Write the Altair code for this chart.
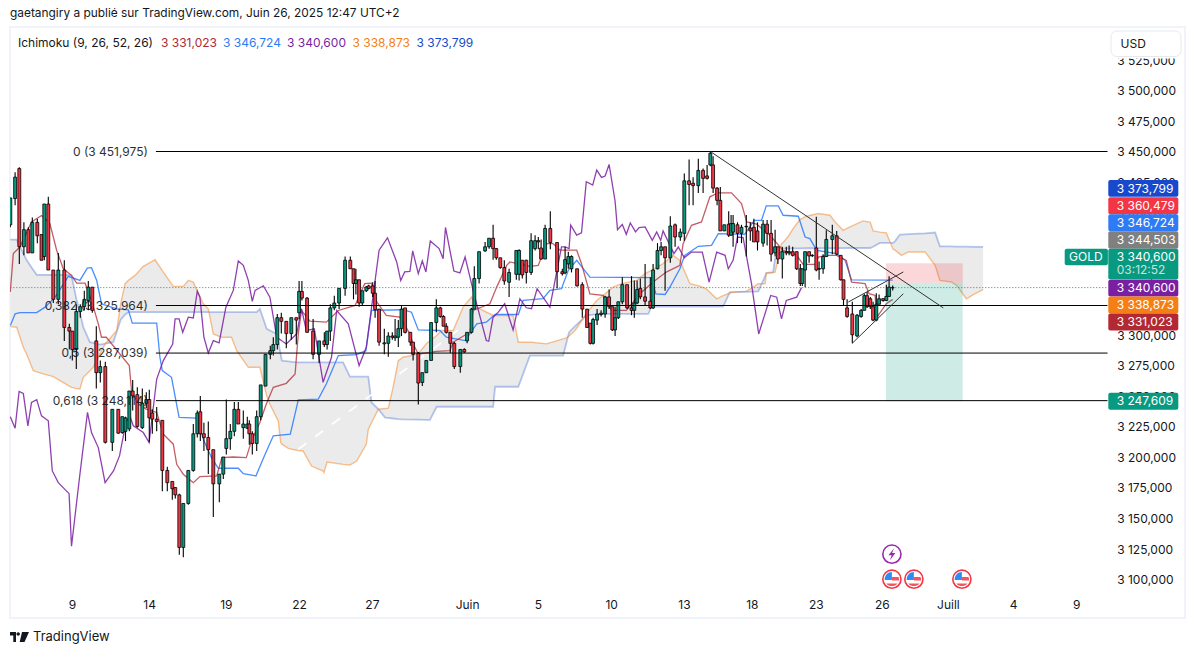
import altair as alt
import pandas as pd

FONT = "Inter"
RED, GREEN = "#f23645", "#089981"
INK = "#131722"

# ---------- candles (bar position, open, high, low, close) ----------
bar_x = [0,1.2,2.25,3.4,4.5,5.5,6.75,7.8,8.5,9.5,
 10.75,12,13.5,14.75,15.5,16.5,17.5,18.5,19.5,20.5,
 21.5,22.5,23.75,25.5,27,28,28.8,29.75,30.6,31.75,
 33,34,34.75,35.5,36.6,38,39.25,40.5,41.25,42.25,
 43.25,44.5,45.75,46.75,47.5,48.4,49.5,50.75,52.25,53.25,
 54,55,56,57,58.25,59.25,59.75,60.5,61.6,62.6,
 63.8,65,65.75,66.75,67.75,69,70.25,71.5,72.2,72.9,
 74.2,75.7,77.2,78.5,79.2,80,81,82.2,83.7,85,
 85.8,86.4,87.2,88,89,89.6,90.6,91.2,92.2,93.5,
 94.5,95.5,96.2,97,97.8,98.7,100,100.7,102,103,
 104,105.2,106.5,107.5,108.3,109,110,111,112.5,113.5,
 114.2,115.3,116,117.2,118.7,119.7,120.7,121.5,122.5,123.5,
 124.7,126.5,127.2,128,129,130.2,131.2,132,132.7,133.7,
 135,136.7,138,138.7,139.5,140.3,141.7,143,144.2,145,
 145.7,146.7,147.7,148.7,149.7,150.5,151.2,152,153,154.2,
 155.3,156,156.7,157.5,158.7,160,160.7,161.8,162.7,163.7,
 165,166.2,167.5,168.5,169.7,170.7,172,173.2,174.2,175,
 175.7,176.7,177.5,178.5,179.6,180.2,180.7,181.8,182.8,184,
 185,185.9,186.8,188.2,189.2,190.2,191.2,191.9,193,194,
 194.7,195.6,196.6,197.5,198,198.7,199.7,200.5,201.5,202.2,
 203.2,204,205.5,206.6,207.6,208.3,209.2,210.5,211.7,212.7,
 213.5,214.2,215,215.7,216.5,217.2,218.2,219,219.7,220.6]
bar_open = [3392,3413.5,3438,3374,3388,3369,3394,3384,3366,3409,
 3355,3331,3355,3308,3305,3290,3321,3325,3330,3341,
 3297,3271,3276,3214,3241,3222,3223,3225,3256,3253,
 3226,3246,3249,3238,3233,3232,3191,3182,3177,3171,
 3128,3164,3191,3221,3239,3221,3218,3208,3180,3188,
 3209,3217,3223,3241,3226,3225.5,3229,3221,3213,3235,
 3260,3286,3289,3294,3316,3313,3303,3316,3320,3337.5,
 3332,3305,3286,3297,3294,3305,3324,3328,3340,3363,
 3356,3344,3347,3328,3338,3342,3342,3336,3323,3294.6,
 3295,3301,3299.5,3300,3307,3324,3304,3296,3287,3263,
 3271,3281,3312,3324,3317,3309,3304,3295,3276,3290,
 3297,3304,3323,3348,3370.6,3374,3381,3372.5,3365,3357,
 3345,3351.5,3351.5,3363,3363,3353,3372.5,3379,3373,3364,
 3389,3377.5,3353.6,3352.6,3360,3356,3356,3343,3323,3311.5,
 3295,3314,3318.6,3319,3333,3325,3306,3316,3329,3343,
 3324,3322,3328,3340,3333,3329.5,3324,3356,3371,3374,
 3365,3392,3382,3385,3428,3426,3424,3436.5,3432,3441,
 3441,3422,3412,3387,3392.5,3383.5,3386,3392,3385,3390.3,
 3389.4,3390,3387,3377,3392.5,3385,3369,3374,3364,3370,
 3369,3370,3370,3356,3344,3355,3370,3366.7,3373,3355.7,
 3356,3366,3380,3383,3367,3347,3324,3319,3301,3317,
 3322,3334,3331.5,3325,3314,3327,3331.5,3330,3333.4,3340.4]
bar_high = [3414,3435,3439,3394,3390,3398,3397,3384,3409,3415,
 3355,3369,3363,3311,3305,3327,3327,3338,3346,3341,
 3309,3281,3280,3241,3241,3235,3235,3256,3265,3259,
 3258,3255,3257,3241,3243,3232,3194,3182,3177,3172,
 3164,3191,3229,3240,3252,3230,3231,3208,3188,3202,
 3249,3229,3247,3247,3240,3235,3232,3223,3240,3261,
 3286,3293,3300,3319,3320,3313,3316,3316,3346,3346,
 3333,3315,3297,3304,3305,3327,3334,3340,3366,3366,
 3356,3356,3347,3338,3342,3343,3345,3346,3323,3307,
 3304,3304,3315,3314,3325.5,3324,3304,3296,3288,3271,
 3281,3312,3331,3325,3318,3311.5,3304,3296,3290,3291,
 3304,3324,3358,3370,3378,3381,3392,3373,3365,3363,
 3356,3371,3372,3363,3363.5,3385,3383.5,3382,3380,3392,
 3403,3377.5,3356,3374,3370,3367,3356,3345,3323,3311.5,
 3316,3323,3322,3334,3339,3325,3325,3329,3349,3343,
 3350,3346.5,3346.5,3348,3360,3349,3360,3377,3378,3374,
 3399,3393,3389,3434,3445.5,3431,3446,3438,3441,3452,
 3448,3423,3423,3392,3403,3400,3400,3394,3392,3400,
 3394,3397,3394,3396,3396,3396,3388,3374,3374,3374,
 3375,3374,3370,3360,3356,3370,3370,3368,3398.5,3362,
 3368,3387.5,3392,3387,3367,3347,3331,3329,3319,3323,
 3335.5,3337,3333,3329,3336,3335,3332,3343,3350,3342.4]
bar_low = [3390,3408,3360,3367,3369,3369,3377,3363,3363,3355,
 3328,3327,3297,3290,3281,3274,3316,3322,3322,3320,
 3258,3263,3213,3207,3221,3221,3215,3223,3240,3226,
 3225,3242,3214,3221,3223,3174,3174,3167,3168,3122,
 3120,3163,3190,3218,3215,3207,3188,3153,3165,3184,
 3204,3208,3219,3229,3217,3225,3212,3204,3207,3232,
 3260,3282,3285,3290,3303,3291,3298,3294,3315,3330,
 3304,3282,3279,3292,3290,3297,3322,3323,3334,3356,
 3331,3335,3325,3326,3337,3339,3333,3316,3293,3286,
 3284,3298,3297,3292,3301,3303,3293,3281,3245,3260,
 3270.7,3281,3304,3316,3309,3303,3287,3274,3271,3287,
 3295,3303,3323,3344,3370,3372.5,3363.5,3363.5,3356,3343,
 3333,3347,3346.5,3348,3344,3351,3371,3372,3363.5,3364,
 3372,3340,3350.6,3351.5,3356,3353,3341.6,3316,3307.7,3294,
 3294,3310,3317,3316,3323,3305,3301,3315,3327,3323,
 3318,3316,3327,3331,3326,3323,3323,3355.5,3367,3338,
 3361,3374,3379,3379,3408,3408,3418,3418,3429,3440,
 3418,3408,3387,3387,3382,3383,3374,3377,3377,3366,
 3379,3378,3371,3374,3375,3362,3366,3360,3348,3367,
 3367,3366,3355,3342,3342,3341,3361,3365.6,3354,3347,
 3352,3365.6,3368,3367,3346.5,3326,3316,3295,3300,3316,
 3322,3324,3323,3313,3313,3327,3329,3329.6,3333,3338.3]
bar_close = [3414,3431,3374,3388,3369,3394,3383,3363,3409,3355,
 3331,3355,3308,3305,3290,3321,3325,3331,3341,3322,
 3271,3276,3214,3241,3221.5,3235,3234,3256,3252,3227,
 3246,3249,3234,3233,3231,3191,3181,3176,3171,3128,
 3164,3191,3221,3238,3221,3218,3208,3180,3188,3202,
 3217,3223,3241,3229,3229,3229,3221,3213,3235,3261,
 3286,3289,3294,3316,3313,3303,3316,3314,3337.5,3332,
 3304,3286,3297,3294,3305,3324,3328,3340,3363,3356,
 3344,3347,3328,3338,3341,3340,3336,3322.5,3296,3295.4,
 3301,3300,3301,3307,3323,3304,3296,3286,3262.5,3271,
 3281,3312,3324,3317,3309,3304,3295,3276,3290,3288,
 3304,3323,3348,3370,3374,3381,3372.5,3365,3357,3346,
 3353,3371,3371,3351,3353,3379,3379,3378,3364,3389,
 3377.5,3353.6,3352,3363.5,3366,3366,3342,3323,3308,3295,
 3314.5,3319,3319.7,3333,3325,3306,3316,3329,3343,3324,
 3322,3328,3339,3333,3329.5,3324,3355,3371,3374,3365,
 3391,3382,3386,3428,3425,3424,3436.5,3430,3430,3450.5,
 3422,3412,3387,3392,3383.5,3393,3393,3385,3390,3390.8,
 3387,3378,3378,3392.5,3385,3368,3374,3364,3370,3369,
 3370,3367,3356,3344,3356,3370,3366.5,3367,3355,3356.3,
 3366,3380,3383,3368,3347,3331,3317,3302,3318,3322,
 3334,3325,3325,3314,3327,3331.5,3330,3333.4,3341,3340.6]

# ---------- Ichimoku ----------
tenkan_x = [0,0.75,2.4,5.3,7.8,9.9,11.6,13.25,15.3,16.6,18.7,20.3,22,22.8,24,29.75,30.3,32,34,36.6,38.25,40.75,41.6,43.25,45.75,47.4,51.6,52.9,55.75,59,60.3,62.4,64,65.75,69,71.2,72,72.8,74.9,79,82,86.2,88.6,90.3,91.4,94,97.4,99.9,100.7,102,106.6,109.9,110.7,114.9,115.7,119.9,121.6,124.1,124.9,129.9,132,134,135.7,137.4,141.6,142.8,144.9,148.2,150.3,154,157.8,161.2,164,167.4,168.2,170.3,172.8,174.9,177,180.3,182.8,184.1,186.6,189.9,193.2,196.6,198.2,201.2,202,204,206.6,209,210.3,213.7,214.7,216.2,216.6,219,220.6]
tenkan_y = [3337,3368.4,3373.8,3394.4,3399.6,3393,3371,3356,3350.6,3344.3,3344.3,3330,3310.9,3300,3300,3276.8,3256.3,3245.3,3241.2,3238.5,3220.7,3212.5,3196,3187.9,3181,3186,3186.5,3201.5,3202,3201.5,3215.2,3230.3,3245.3,3259,3262.3,3270,3302.8,3321.9,3313.2,3312.3,3321.9,3326,3343.8,3344.3,3330,3317.8,3316.4,3302.8,3294.6,3286.3,3288.5,3289,3295.9,3304.1,3321.9,3327.4,3341,3358.8,3361.6,3358,3358.8,3376.6,3376.6,3371.2,3371.2,3360.2,3335.5,3334.2,3321.9,3321.9,3336.9,3346.5,3353.3,3358.8,3376.6,3391.6,3394.4,3414.9,3418.2,3418.2,3409.4,3394.4,3392.5,3383.4,3371.1,3367,3359.6,3359.6,3365.6,3367,3367,3362.9,3345.1,3343.8,3335.6,3334.2,3316,3327.4,3331]

kijun_x = [0,1.2,2.4,6.6,8.7,11.2,14.5,17.4,19.25,20.3,21.6,22.8,26.6,29.5,30.5,36.6,37.4,38,40.3,42.2,46.6,48.4,50.3,52,57,58.25,61.4,63.7,65.75,70,72,77,79,82,86.6,88.9,90.3,98.2,100.3,102,107.4,109,113.7,116.6,119,121.2,127,128.2,133.2,134.9,137.8,139.5,141.6,144.9,160.3,161.4,163.7,164.9,167.4,168.6,172,175.3,177,183.6,186,187.8,189,192,193.2,197,198.7,199.9,201.6,206.6,208.7,210.3,220.6]
kijun_y = [3309.5,3319.1,3320.2,3320.2,3324.6,3332.8,3349.8,3346.5,3356.6,3356.9,3346.5,3327.3,3323.2,3322.4,3311.5,3311.5,3283.6,3272.7,3267.2,3234.4,3233.8,3215.2,3201.5,3192.8,3192.8,3188.4,3186.5,3204.3,3219.3,3220.7,3248.8,3249.4,3261.7,3285,3285.8,3289,3321.9,3322.5,3320.5,3306,3305.5,3300,3297.3,3311,3312.3,3318.6,3318.6,3330.1,3331.5,3338.3,3339.7,3354.7,3363,3349.2,3348.7,3335.5,3335,3341,3356,3367,3374.4,3375.2,3384.8,3384.2,3395.7,3395.7,3407.5,3407.5,3399.8,3399,3382,3380.7,3371.1,3368.4,3362.9,3347,3346.7]

chikou_x = [0,1.2,2.2,3.25,4.4,5.3,6.6,7.8,9.5,10.5,12,14.7,15.3,17.4,19.3,20.3,22,23.7,25.8,27.3,29,30,30.75,33.25,34.7,36.6,38.25,40.6,41.2,42.2,43.1,44.5,45.75,46.75,47.4,48.4,49.5,50.75,52.2,53.9,55.75,57,58.25,59.5,60.5,61.2,63.25,64.9,66.6,69,71.6,72.8,74,76,78.2,80.3,81.6,84.5,87.2,89,92.2,94.3,96.6,97.6,98.6,99.9,100.6,102,103,103.9,105,107.2,108.2,108.8,110.9,112.4,113.7,115.7,119,119.6,120.7,122,123.6,125.7,127.4,129,130.3,131.7,134.9,137.8,138.7,139.7,140.1,141.6,142.8,144,145.6,146.6,147.8,148.7,149.7,151.2,151.8,153,154,155,156.3,157.2,158.7,160.5,161.6,162.6,163.2,165.9,167,168.5,170.3,173,174.7,176.6,178.7,179.5,180.7,181.8,183.2,185.3,187.1,190.1,191.6,192.8,194,196.6,197.8]
chikou_y = [3235,3225.6,3255.7,3254,3227.5,3246.7,3248.9,3235.7,3231.6,3190.6,3181,3172,3129,3187.9,3238.5,3222,3209.7,3181,3190.6,3202.9,3231.6,3234.4,3227.5,3222,3213.8,3265.8,3280.9,3294.5,3315,3315,3304,3316.4,3315.8,3337.7,3332.8,3300,3287.1,3297.2,3295.3,3324.6,3338.3,3362.4,3358.8,3346.5,3329.3,3338.3,3342.1,3332.8,3300,3294.5,3302.8,3323.3,3305.5,3306.9,3263.1,3283.6,3321.9,3311,3276.8,3291.8,3371.2,3381.3,3361.6,3346.5,3353.4,3353.9,3370.6,3352,3362.4,3353.4,3378.8,3372.5,3364.3,3389.8,3354.2,3352.6,3365.7,3338.3,3297.3,3296.7,3316.4,3320.5,3327.4,3306,3331.5,3324.1,3323.3,3339.7,3324.6,3373.9,3373.9,3372.5,3391.7,3383.5,3385.4,3427.2,3424.5,3436.8,3430.8,3431.9,3441.4,3411.3,3388,3392.2,3384.2,3393.5,3386.2,3389.7,3390.3,3379.3,3386.2,3379.3,3387,3368.4,3373.8,3365.1,3369.7,3369.7,3345.1,3369.7,3367,3356,3362.9,3382,3381.5,3343.8,3302.7,3334.2,3332.8,3315,3330.1,3332.8,3340.6]

span_x = [0,1.6,3.25,4.1,5.75,6.6,8.25,10.75,13.7,15.3,16.6,17.4,18.25,19.9,20.75,22.4,23.7,25.75,26.6,27.6,28.7,29.5,31.2,33.25,36.2,38.25,40.75,43.25,44.5,45.75,48.25,49.5,50.75,52.8,55.3,56.6,59.5,61.6,62.4,63.6,64.1,64.9,66.6,67,67.6,67.9,69.5,71.6,73.2,75.3,78.2,78.4,79.2,83.2,84.9,86.6,89,89.5,90.3,92,93.7,94.5,95.7,97,98.2,102,104,104.9,106.6,107.8,110.7,113.2,115.3,116.6,117.4,120.7,121.2,125.7,127,129.9,130.3,134,138.2,139,139.7,141.2,144,146.6,148.2,150.7,152.8,156.6,158.7,159.5,160.3,163.2,165.7,167.4,169.9,172.4,174,176.6,178.2,179.9,180.7,184,187,188.7,189,190.7,191.2,192.8,193.2,194.5,195.7,197.4,199,202,204.9,206.2,208.2,209.9,213.2,215,215.7,217.4,219,220.7,221.2,222.4,222.8,224.5,227,228.7,231.2,232.4,235.3,236.6,239,241.2,243.2]
span_a = [3308.7,3308.2,3291.8,3286,3272.6,3271.7,3270,3267.8,3262,3259,3258,3257.6,3267.2,3272.6,3275.4,3286,3294.5,3302.2,3305.4,3327.3,3343.8,3346.5,3350.6,3358,3363.4,3353.3,3341.6,3341.6,3346.5,3345.1,3327.3,3323.2,3302.7,3300,3300,3289,3275.4,3275.4,3275.4,3258.9,3252,3245.2,3234,3231.6,3213.8,3212.5,3209.1,3207.5,3206.9,3194.6,3190.5,3189.2,3197.9,3196,3195.4,3198.7,3212.4,3224.7,3230,3241.1,3241.7,3242,3259,3280.9,3283.6,3286.3,3294.6,3297,3301.4,3305.5,3305.5,3324.6,3332.9,3324.6,3323.3,3317.8,3317.8,3317.8,3295.9,3295.9,3295.9,3294.6,3298.7,3299.5,3301,3305.5,3319.2,3330.1,3334.2,3341,3343.8,3346.5,3352,3353.4,3354.7,3360.2,3367,3362.9,3343.8,3341.8,3339.6,3331.4,3334,3336.2,3336.9,3337.5,3343.8,3343.8,3352.5,3353,3353.3,3376.6,3377.5,3382.6,3388.9,3396.3,3399,3401.2,3399.8,3394.4,3387.5,3390.3,3395.2,3394,3387,3386,3385.4,3372,3371.2,3368,3367,3369.8,3369.8,3369.8,3358.8,3346.5,3345.2,3342.4,3331.5,3335.6,3338.9]
span_b = [3379.9,3379.9,3368.7,3362.9,3355,3351.1,3351.1,3351.1,3351.1,3350.6,3330,3320,3308.2,3295.9,3295.3,3294,3294.7,3295.9,3304.3,3314.4,3318.6,3320.5,3320.5,3320.5,3320.5,3320.5,3320.5,3320.5,3320.5,3320.5,3320.5,3320.5,3320.5,3320.5,3320.5,3320.5,3320.5,3320.5,3323.2,3311.6,3306.8,3305.5,3302.7,3296,3286,3280.8,3280.2,3279.5,3279.4,3279.4,3279.4,3279.4,3279.4,3279.5,3267.7,3267.7,3267.7,3267.7,3246.6,3241.1,3234.3,3234,3233.5,3233,3232.8,3232.5,3232.4,3232.4,3243.1,3243.1,3243.1,3243.1,3243.1,3243.1,3243.1,3243.1,3259.5,3259.5,3259.5,3285,3285,3285,3285,3295,3304.1,3309,3317.8,3318.7,3319.1,3319.1,3319.1,3319.1,3319.1,3319.1,3325.1,3325.1,3325.1,3325.1,3325.1,3325.1,3325.1,3325.1,3325.1,3336.9,3336.9,3337.2,3337.5,3350,3352.5,3353.3,3364.3,3371,3372.5,3372.6,3372.7,3372.7,3372.8,3372.8,3372.9,3372.9,3372.9,3373,3373,3373,3374,3377.2,3377.2,3377.2,3378.7,3384,3384,3384.3,3384.8,3385,3385.7,3374.4,3374.3,3374.2,3374.1,3374,3373.9]

# ---------- drawings ----------
fib_levels = [3451.975, 3325.964, 3287.039, 3248.114]
fib_labels = ["0 (3 451,975)", "0,382 (3 325,964)", "0,5 (3 287,039)", "0,618 (3 248,114)"]
fib_start, fib_end, fib_label_x = 36.4, 274.3, 34.4

trend_x = [175, 233.25]; trend_y = [3452, 3324]
wedge_hi_x = [209.5, 223.25]; wedge_hi_y = [3328.8, 3353.4]
wedge_lo_x = [210.5, 223.25]; wedge_lo_y = [3295.1, 3335.6]
dash_x = [72, 113.2]; dash_y = [3208.3, 3308.8]

pos_left, pos_right = 218.9, 238.1
pos_target, pos_entry, pos_stop = 3247.609, 3344.503, 3360.479
last_price = 3340.6

# ---------- axes ----------
price_ticks = list(range(3100, 3550, 25))
date_pos = [15.4, 34.7, 53.9, 72.2, 90.4, 114.2, 131.9, 150.2, 168.4, 185.4, 201.4, 217.9, 234.4, 250.7, 266.5]
date_labels = ["9", "14", "19", "22", "27", "Juin", "5", "10", "13", "18", "23", "26", "Juill", "4", "9"]

# ---------- right-hand price tags ----------
tag_text = ["3 373,799", "3 360,479", "3 346,724", "3 344,503", "3 340,600", "3 340,600", "3 338,873", "3 331,023", "3 247,609"]
tag_color = ["#1848cc", RED, "#2f7bf5", "#808080", GREEN, "#7b1fa2", "#f57f17", "#b22833", GREEN]
tag_top = [3428.6, 3414.6, 3400.7, 3386.7, 3372.5, 3347.1, 3333.4, 3319.4, 3254.6]
tag_bottom = [3414.9, 3400.7, 3386.7, 3372.5, 3347.3, 3333.4, 3319.4, 3305.5, 3240.6]
tag_mid = [3421.6, 3407.6, 3393.7, 3379.6, 3365.6, 3340.2, 3326.4, 3312.4, 3247.6]

legend_text = ["3 331,023", "3 346,724", "3 340,600", "3 338,873", "3 373,799"]
legend_color = ["#b22833", "#2f7bf5", "#7b1fa2", "#f57f17", "#1848cc"]
legend_px = [151, 213, 277, 342.5, 406.5]

flag_x = [220.4, 225.9, 237.9]
flag_price = 3102
bolt_x, bolt_price = 220.4, 3122.5

xs = alt.Scale(domain=[-0.075, 293.675], nice=False, zero=False, padding=0)
ys = alt.Scale(domain=[3070.26, 3553.85], nice=False, zero=False, padding=0)
X = alt.X("x:Q", scale=xs, axis=None)
Y = alt.Y("y:Q", scale=ys, axis=None)

order_expr = "[" + ",".join(f"'{d}'" for d in date_labels) + "][indexof([" + ",".join(str(p) for p in date_pos) + "],datum.value)]"
x_axis = alt.Axis(values=date_pos, labelExpr=order_expr, orient="bottom", offset=-25, grid=False, domain=False, ticks=False,
                  labelPadding=6, labelFont=FONT, labelFontSize=12, labelColor=INK, labelOverlap=False, labelFlush=False,
                  labelFontWeight=alt.condition("datum.label=='Juin' || datum.label=='Juill'", alt.value(600), alt.value(400)), title=None)
y_axis = alt.Axis(values=price_ticks, labelExpr="'3 ' + format(datum.value-3000,'03d') + ',000'", orient="right", offset=-68.3,
                  grid=False, domain=False, ticks=False, labelPadding=0, labelFont=FONT, labelFontSize=12, labelColor=INK,
                  labelOverlap=False, labelFlush=False, labelAlign="left", labelBaseline="middle", labelOffset=-2, title=None)

def line(xv, yv, color, width=1.0, opacity=1.0, dash=None):
    df = pd.DataFrame({"x": xv, "y": yv, "k": range(len(xv))})
    kw = {"strokeDash": dash} if dash else {}
    return alt.Chart(df).mark_line(color=color, strokeWidth=width, opacity=opacity, clip=True, **kw).encode(X, Y, order="k:Q")

span = pd.DataFrame({"x": span_x, "a": span_a, "b": span_b})
cloud = alt.Chart(span).mark_area(color="#ebebeb", opacity=1, clip=True).encode(
    x=alt.X("x:Q", scale=xs, axis=x_axis),
    y=alt.Y("a:Q", scale=ys, axis=y_axis),
    y2="b:Q")

candles = pd.DataFrame({"x": bar_x, "o": bar_open, "h": bar_high, "l": bar_low, "c": bar_close})
candles["col"] = [GREEN if c >= o else RED for o, c in zip(candles.o, candles.c)]
wicks = alt.Chart(candles).mark_rule(color="#000000", strokeWidth=1.1, clip=True).encode(X, alt.Y("l:Q", scale=ys, axis=None), y2="h:Q")
bodies = alt.Chart(candles).mark_bar(size=2.9, stroke="#000000", strokeWidth=0.8, clip=True).encode(
    X, alt.Y("o:Q", scale=ys, axis=None), y2="c:Q", color=alt.Color("col:N", scale=None))

fib = pd.DataFrame({"x": [fib_start] * 4, "x2": [fib_end] * 4, "y": fib_levels, "lx": [fib_label_x] * 4, "t": fib_labels})
fib_rules = alt.Chart(fib).mark_rule(color="#000000", strokeWidth=1).encode(X, x2="x2:Q", y=Y)
fib_text = alt.Chart(fib).mark_text(align="right", baseline="middle", font=FONT, fontSize=12, color=INK, opacity=0.9).encode(
    alt.X("lx:Q", scale=xs, axis=None), Y, text="t:N")

pos = pd.DataFrame({"x": [pos_left] * 2, "x2": [pos_right] * 2, "y": [pos_stop, pos_entry], "y2": [pos_entry, pos_target], "col": [RED, GREEN]})
pos_rect = alt.Chart(pos).mark_rect(opacity=0.2).encode(X, x2="x2:Q", y=Y, y2="y2:Q", color=alt.Color("col:N", scale=None))

last = alt.Chart(pd.DataFrame({"x": [0], "x2": [274.3], "y": [last_price]})).mark_rule(color=GREEN, strokeWidth=1, strokeDash=[1, 2]).encode(X, x2="x2:Q", y=Y)

tags = pd.DataFrame({"x": [274.5] * 9, "x2": [292.0] * 9, "top": tag_top, "bot": tag_bottom, "mid": tag_mid, "t": tag_text, "col": tag_color, "tx": [276.6] * 9})
tag_rect = alt.Chart(tags).mark_rect(cornerRadius=2).encode(X, x2="x2:Q", y=alt.Y("top:Q", scale=ys, axis=None), y2="bot:Q", color=alt.Color("col:N", scale=None))
tag_label = alt.Chart(tags).mark_text(align="left", baseline="middle", font=FONT, fontSize=12, color="#ffffff").encode(
    alt.X("tx:Q", scale=xs, axis=None), alt.Y("mid:Q", scale=ys, axis=None), text="t:N")

countdown = alt.Chart(pd.DataFrame({"x": [276.6], "y": [3354.7], "t": ["03:12:52"]})).mark_text(
    align="left", baseline="middle", font=FONT, fontSize=12, color="#ffffff", opacity=0.75).encode(X, Y, text="t:N")
gold_text = alt.Chart(pd.DataFrame({"x": [268.9], "y": [3365.6], "t": ["GOLD"]})).mark_text(
    align="center", baseline="middle", font=FONT, fontSize=12, color="#ffffff").encode(X, Y, text="t:N")
gold_rect = alt.Chart(pd.DataFrame({"x": [263.6], "x2": [274.4], "y": [3372.5], "y2": [3358.8]})).mark_rect(cornerRadius=2, color=GREEN).encode(X, x2="x2:Q", y=Y, y2="y2:Q")

one = alt.Data(values=[{"a": 1}])
def label(px, py, text, color=INK, size=12, weight=400, align="left"):
    return alt.Chart(one).mark_text(text=text, align=align, baseline="middle", font=FONT, fontSize=size, fontWeight=weight, color=color).encode(
        x=alt.value(px), y=alt.value(py))

top_mask = alt.Chart(one).mark_rect(fill="#ffffff").encode(
    x=alt.value(1098), x2=alt.value(1173), y=alt.value(1), y2=alt.value(31.5))
usd_box = alt.Chart(one).mark_rect(fill="#ffffff", stroke="#e6e8ee", strokeWidth=1, cornerRadius=6).encode(
    x=alt.value(1101), x2=alt.value(1171), y=alt.value(4), y2=alt.value(29.5))

top_layers = [label(0, -14, "gaetangiry a publié sur TradingView.com, Juin 26, 2025 12:47 UTC+2", size=11.9),
              label(8, 16, "Ichimoku (9, 26, 52, 26)", size=12),
              top_mask, usd_box, label(1110.5, 16.5, "USD", size=12), label(23, 610, "TradingView", size=13, weight=400)]
for px, t, c in zip(legend_px, legend_text, legend_color):
    top_layers.append(label(px, 16, t, color=c, size=12))

logo_path = "M-0.95,-0.5 H-0.35 V0.5 H-0.62 V-0.15 H-0.95 Z M-0.3,-0.3 A0.17,0.17 0 1 0 0.04,-0.3 A0.17,0.17 0 1 0 -0.3,-0.3 Z M0.25,-0.5 H0.95 L0.5,0.5 H0.02 Z"
logo = alt.Chart(one).mark_point(shape=logo_path, size=400, filled=True, color="#131722", opacity=1).encode(x=alt.value(9.5), y=alt.value(610))

flags = pd.DataFrame({"x": flag_x, "y": [flag_price] * 3})
ring = alt.Chart(flags).mark_point(shape="circle", size=330, filled=False, stroke=RED, strokeWidth=1.6, opacity=1, fill="#ffffff", fillOpacity=1).encode(X, Y)
flag_red = alt.Chart(flags).mark_point(
    shape="M0,-0.22 H0.66 A0.72,0.72 0 0 1 0.72,0.14 H0 Z M-0.56,0.42 H0.56 A0.72,0.72 0 0 1 -0.56,0.42 Z",
    size=400, filled=True, color="#f7525f", opacity=1).encode(X, Y)
flag_blue = alt.Chart(flags).mark_point(
    shape="M-0.72,0.08 A0.72,0.72 0 0 1 0,-0.72 V0.08 Z",
    size=400, filled=True, color="#2f8bf5", opacity=1).encode(X, Y)
bolt = pd.DataFrame({"x": [bolt_x], "y": [bolt_price]})
bolt_ring = alt.Chart(bolt).mark_point(shape="circle", size=330, filled=False, stroke="#9c27b0", strokeWidth=1.6, opacity=1).encode(X, Y)
bolt_sign = alt.Chart(bolt).mark_point(shape="M0.22,-0.6 L-0.35,0.1 H-0.02 L-0.2,0.6 L0.35,-0.12 H0.02 Z", size=400, filled=True, color="#9c27b0", opacity=1).encode(X, Y)

chart = alt.layer(
    cloud,
    line(span_x, span_b, "#1848cc", 1.8, 0.3),
    line(span_x, span_a, "#f57f17", 1.4, 0.48),
    line(kijun_x, kijun_y, "#2979ff", 1.3, 0.85),
    line(tenkan_x, tenkan_y, "#b22833", 1.3, 0.75),
    line(chikou_x, chikou_y, "#7b1fa2", 1.3, 0.85),
    line(dash_x, dash_y, "#ffffff", 1.8, 1, [10, 11]),
    pos_rect,
    last,
    wicks, bodies,
    fib_rules, fib_text,
    line(trend_x, trend_y, "#333333", 1.0),
    line(wedge_hi_x, wedge_hi_y, "#333333", 1.0),
    line(wedge_lo_x, wedge_lo_y, "#333333", 1.0),
    tag_rect, gold_rect, tag_label, gold_text, countdown,
    ring, flag_red, flag_blue, bolt_ring, bolt_sign,
    logo, *top_layers,
).resolve_axis(x="independent", y="independent").properties(
    width=1175, height=591,
    padding={"left": 2, "top": 19, "right": 2, "bottom": 26},
    autosize=alt.AutoSizeParams(type="none", contains="content"),
    background="#ffffff",
).configure_view(stroke="#f0f3fa", strokeWidth=2)

chart.save("out.html", embed_options={"renderer": "svg", "actions": False})
